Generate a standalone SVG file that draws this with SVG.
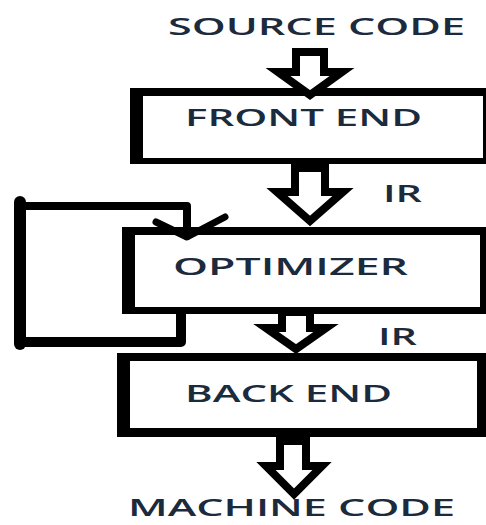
<svg xmlns="http://www.w3.org/2000/svg" width="486" height="525" viewBox="0 0 486 525">
<style>
.t{font-family:"Open Sans","Liberation Sans",sans-serif;font-size:24px;font-weight:600;fill:#1b2a3c;}
.frame{fill:#000;}
.inner{fill:#fff;}
.blk{fill:#fff;stroke:#000;stroke-width:8;stroke-linejoin:miter;}
.ln{fill:none;stroke:#000;stroke-linecap:round;stroke-linejoin:round;}
</style>
<rect width="486" height="525" fill="#fff"/>
<text id="source" class="t" x="168" y="35" textLength="297" lengthAdjust="spacingAndGlyphs">SOURCE CODE</text>
<g id="frontend">
<rect class="frame" x="130" y="88" width="356" height="76"/>
<rect class="inner" x="143" y="96" width="340" height="62"/>
<text class="t" x="185" y="126" textLength="237" lengthAdjust="spacingAndGlyphs">FRONT END</text>
</g>
<g id="optimizer">
<rect class="frame" x="122" y="227" width="364" height="87"/>
<rect class="inner" x="135" y="235" width="345" height="72"/>
<text class="t" x="173" y="275" textLength="235" lengthAdjust="spacingAndGlyphs">OPTIMIZER</text>
</g>
<g id="backend">
<rect class="frame" x="117" y="353" width="369" height="84"/>
<rect class="inner" x="130" y="361" width="347" height="67"/>
<text class="t" x="185" y="402" textLength="207" lengthAdjust="spacingAndGlyphs">BACK END</text>
</g>
<text id="machine" class="t" x="128" y="516" font-size="23" textLength="327" lengthAdjust="spacingAndGlyphs">MACHINE CODE</text>
<g id="connectors">
<polygon class="blk" points="296,52 324,52 324,72 342,72 310,95 278,72 296,72"/>
<polygon class="blk" points="295,168 325,168 325,192 343,192 310,221 277,192 295,192"/>
<polygon class="blk" points="282,312 310,312 310,328 326,328 296,349 266,328 282,328"/>
<polygon class="blk" points="280,441 306,441 306,466 322,466 294,494 266,466 280,466"/>
<path class="ln" stroke-width="12" d="M20 202 V344"/>
<path class="ln" stroke-width="8" d="M20 206 H187 V236"/>
<path class="ln" stroke-width="7" d="M156 222 L187 237 L225 217"/>
<path class="ln" stroke-width="10" d="M181 312 V342 H20"/>
<text class="t" x="383" y="202" textLength="39" lengthAdjust="spacingAndGlyphs">IR</text>
<text class="t" x="378" y="345" textLength="39" lengthAdjust="spacingAndGlyphs">IR</text>
</g>
</svg>
